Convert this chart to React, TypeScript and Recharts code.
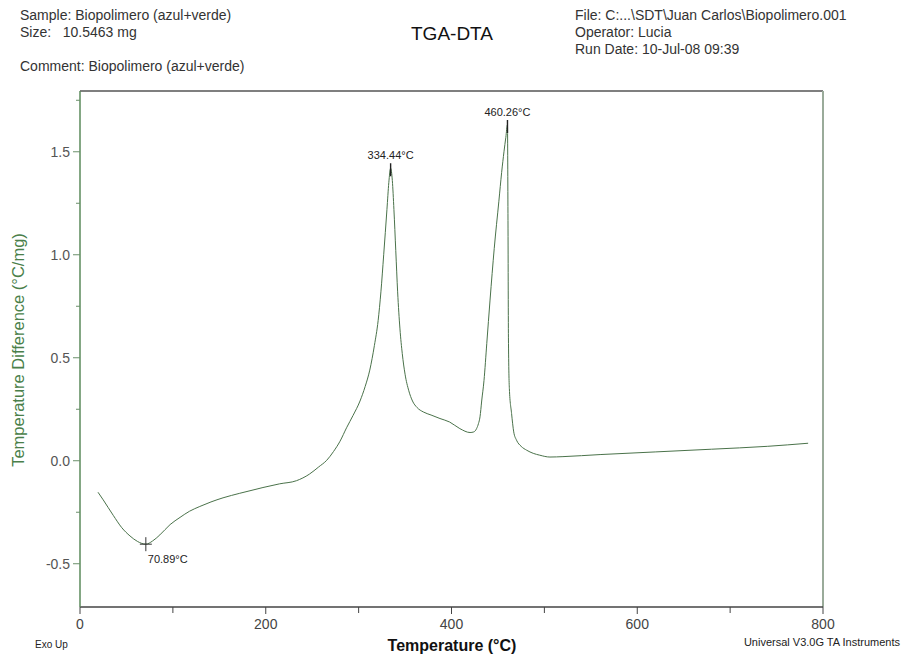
import React from 'react';
import { LineChart, Line, XAxis, YAxis, ReferenceLine, ReferenceDot } from 'recharts';

const temperature = [19.4, 25, 35.8, 45, 53.8, 62, 70.89, 78, 86, 97, 107.7, 118, 129, 141, 154, 172, 197, 215, 233, 247, 257, 265.6, 273, 280, 287, 294, 301.5, 307, 312, 317, 321, 324, 327, 330.5, 332.5, 334.44, 336.3, 338, 340, 342, 344.5, 347, 350, 354, 358, 363, 369.6, 378, 387.6, 398, 409, 420, 424, 427, 429, 430.7, 432.5, 435, 438, 441.5, 446, 451, 454, 456.5, 458.5, 460.26, 460.8, 461.3, 462.3, 464.7, 467, 470, 475, 481, 488, 495, 506, 520, 560, 620, 680, 740, 784];
const tempDiff = [-0.153, -0.19, -0.265, -0.325, -0.365, -0.392, -0.405, -0.39, -0.36, -0.31, -0.275, -0.245, -0.222, -0.2, -0.18, -0.158, -0.13, -0.112, -0.097, -0.065, -0.03, 0.002, 0.045, 0.095, 0.16, 0.22, 0.29, 0.36, 0.44, 0.56, 0.68, 0.82, 1.0, 1.22, 1.35, 1.42, 1.36, 1.22, 1.02, 0.82, 0.64, 0.52, 0.42, 0.34, 0.29, 0.258, 0.237, 0.222, 0.205, 0.188, 0.156, 0.137, 0.14, 0.156, 0.18, 0.213, 0.29, 0.39, 0.57, 0.78, 1.03, 1.26, 1.4, 1.5, 1.57, 1.63, 1.2, 0.6, 0.35, 0.229, 0.14, 0.1, 0.07, 0.051, 0.036, 0.027, 0.018, 0.02, 0.03, 0.043, 0.056, 0.07, 0.085];

const xTicks = [0, 100, 200, 300, 400, 500, 600, 700, 800];
const xLabeled = [0, 200, 400, 600, 800];
const yTicks = [-0.5, -0.25, 0, 0.25, 0.5, 0.75, 1, 1.25, 1.5, 1.75];
const yLabeled = [-0.5, 0, 0.5, 1, 1.5];

const peaks = [
  { t: 70.89, v: -0.405, label: '70.89°C', kind: 'min' },
  { t: 334.44, v: 1.42, label: '334.44°C', kind: 'max' },
  { t: 460.26, v: 1.63, label: '460.26°C', kind: 'max' },
];

const data = temperature.map((t, i) => ({ t, v: tempDiff[i] }));

const FONT = "'Liberation Sans', Arial, sans-serif";
const NARROW = "'Liberation Sans Narrow', 'Arial Narrow', 'Liberation Sans', Arial, sans-serif";

const XTick = (props: any) => {
  const { x, y, payload } = props;
  const major = xLabeled.includes(payload.value);
  return (
    <g>
      <line x1={x} x2={x} y1={y} y2={y + (major ? 7 : 6)} stroke="#444" />
      {major && (
        <text x={x} y={y + 22} textAnchor="middle" fontSize={14} fontFamily={NARROW} fill="#444">
          {payload.value}
        </text>
      )}
    </g>
  );
};

const YTick = (props: any) => {
  const { x, y, payload } = props;
  const major = yLabeled.includes(payload.value);
  return (
    <g>
      <line x1={x - (major ? 7 : 4)} x2={x} y1={y} y2={y} stroke="#6a8f6a" />
      {major && (
        <text x={x - 10} y={y + 5} textAnchor="end" fontSize={14} fontFamily={FONT} fill="#555">
          {payload.value.toFixed(1)}
        </text>
      )}
    </g>
  );
};

const PeakMark = (p: any) => (props: any) => {
  const { cx, cy } = props;
  if (p.kind === 'min') {
    return (
      <g>
        <line x1={cx} x2={cx} y1={cy - 7} y2={cy + 7} stroke="#333" />
        <line x1={cx - 6} x2={cx + 6} y1={cy} y2={cy} stroke="#333" />
        <text x={cx + 2} y={cy + 19} fontSize={11} fontFamily={FONT} fill="#222">{p.label}</text>
      </g>
    );
  }
  return (
    <g>
      <line x1={cx} x2={cx} y1={cy - 5} y2={cy + 8} stroke="#222" strokeWidth={1.4} />
      <text x={cx} y={cy - 9} textAnchor="middle" fontSize={11} fontFamily={FONT} fill="#222">{p.label}</text>
    </g>
  );
};

export default function App() {
  return (
    <div style={{ position: 'absolute', left: 0, top: 0, width: 902, height: 655, background: '#fff' }}>
      <LineChart width={902} height={655} data={data} margin={{ top: 91, right: 79, bottom: 18, left: 20 }}>
        <XAxis
          dataKey="t"
          type="number"
          domain={[0, 800]}
          ticks={xTicks}
          tickSize={0}
          tickMargin={0}
          height={30}
          tick={<XTick />}
          axisLine={{ stroke: '#444', strokeWidth: 1.5 }}
          tickLine={false}
          interval={0}
        />
        <YAxis
          type="number"
          domain={[-0.71, 1.795]}
          allowDataOverflow
          ticks={yTicks}
          tickSize={0}
          tickMargin={0}
          width={60}
          tick={<YTick />}
          axisLine={{ stroke: '#5b8a5b', strokeWidth: 1.5 }}
          tickLine={false}
          interval={0}
        />
        <ReferenceLine y={1.795} stroke="#555" strokeWidth={1.5} ifOverflow="extendDomain" />
        <ReferenceLine x={800} stroke="#9aab9a" strokeWidth={2} />
        <Line
          type="monotone"
          dataKey="v"
          stroke="#4a724a"
          strokeWidth={1}
          dot={false}
          isAnimationActive={false}
        />
        {peaks.map((p) => (
          <ReferenceDot key={p.label} x={p.t} y={p.v} r={0} shape={PeakMark(p)} ifOverflow="visible" />
        ))}
      </LineChart>
      <svg width={902} height={655} style={{ position: 'absolute', left: 0, top: 0, pointerEvents: 'none' }}>
        <g fontFamily={FONT} fontSize={14} fill="#333">
          <text x={20} y={20}>Sample: Biopolimero (azul+verde)</text>
          <text x={20} y={37} style={{ whiteSpace: 'pre' }}>{'Size:   10.5463 mg'}</text>
          <text x={20} y={71}>Comment: Biopolimero (azul+verde)</text>
          <text x={575} y={20}>File: C:...\SDT\Juan Carlos\Biopolimero.001</text>
          <text x={575} y={37}>Operator: Lucia</text>
          <text x={575} y={54}>Run Date: 10-Jul-08 09:39</text>
        </g>
        <text x={452} y={40} textAnchor="middle" fontFamily={FONT} fontSize={19} fill="#111">TGA-DTA</text>
        <text
          x={24}
          y={350}
          transform="rotate(-90 24 350)"
          textAnchor="middle"
          fontFamily={FONT}
          fontSize={16.5}
          fill="#4a7f4a"
        >
          Temperature Difference (°C/mg)
        </text>
        <text x={452} y={651} textAnchor="middle" fontFamily={NARROW} fontSize={16} fontWeight="bold" fill="#111">
          Temperature (°C)
        </text>
        <text x={35} y={648} fontFamily={NARROW} fontSize={10} fill="#222">Exo Up</text>
        <text x={900} y={646} textAnchor="end" fontFamily={NARROW} fontSize={11} fill="#222">Universal V3.0G TA Instruments</text>
      </svg>
    </div>
  );
}
